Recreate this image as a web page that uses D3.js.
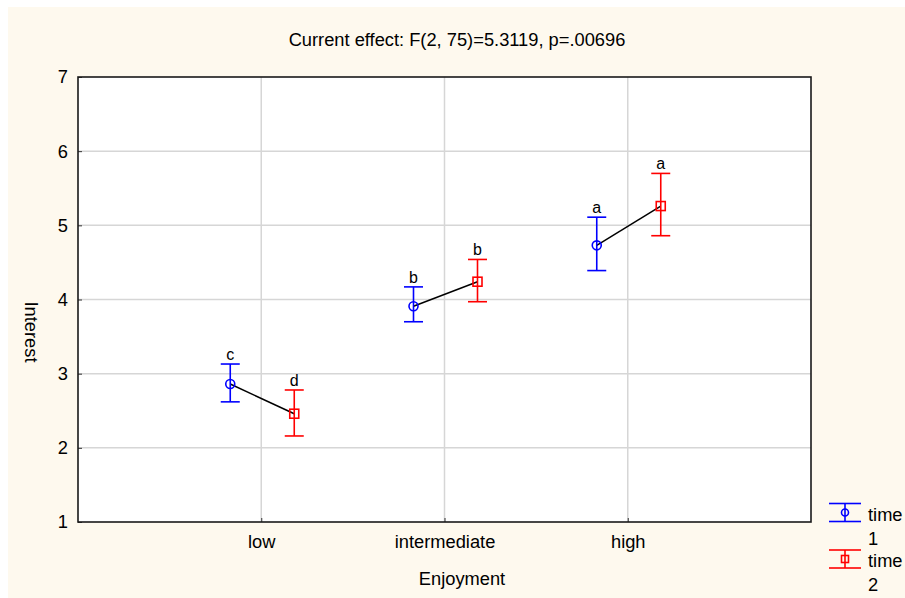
<!DOCTYPE html>
<html>
<head>
<meta charset="utf-8">
<script src="https://cdn.jsdelivr.net/npm/d3@7"></script>
<style>
  html, body { margin: 0; padding: 0; background: #ffffff; }
  text { font-family: "Liberation Sans", Arial, sans-serif; fill: #000; }
</style>
</head>
<body>
<svg id="chart" width="905" height="598"></svg>
<script>
// Interest by level of enjoyment, at two measurement times (means with error bars)
const categories = ["low", "intermediate", "high"];
const seriesNames = ["time 1", "time 2"];
const time1Mean  = [2.86, 3.91, 4.73];
const time1Upper = [3.13, 4.17, 5.11];
const time1Lower = [2.62, 3.70, 4.39];
const time2Mean  = [2.46, 4.24, 5.26];
const time2Upper = [2.78, 4.54, 5.70];
const time2Lower = [2.16, 3.97, 4.86];
const time1Letters = ["c", "b", "a"];
const time2Letters = ["d", "b", "a"];
const yTicks = [1, 2, 3, 4, 5, 6, 7];
const titleText = "Current effect: F(2, 75)=5.3119, p=.00696";

const colors = { "time 1": "#0000ff", "time 2": "#ff0000" };
const fontSize = 18.3;

const svg = d3.select("#chart");

// page background
svg.append("rect").attr("x", 8).attr("y", 7).attr("width", 897).attr("height", 591)
  .attr("fill", "#fef9ee");

const plot = { left: 78, right: 811, top: 77, bottom: 522 };

const x = d3.scalePoint().domain(categories).range([plot.left, plot.right]).padding(1);
const xSeries = d3.scalePoint().domain(seriesNames).range([-31, 33]);
const y = d3.scaleLinear().domain([1, 7]).range([plot.bottom, plot.top]);

// plot area
svg.append("rect")
  .attr("x", plot.left).attr("y", plot.top)
  .attr("width", plot.right - plot.left).attr("height", plot.bottom - plot.top)
  .attr("fill", "#ffffff");

// grid lines
const grid = svg.append("g");
grid.selectAll("line.h").data(yTicks.slice(1, -1)).join("line")
  .attr("x1", plot.left).attr("x2", plot.right)
  .attr("y1", d => y(d)).attr("y2", d => y(d))
  .attr("stroke", "#d6d6d6").attr("stroke-width", 1.5);
grid.selectAll("line.v").data(categories).join("line")
  .attr("x1", d => x(d)).attr("x2", d => x(d))
  .attr("y1", plot.top).attr("y2", plot.bottom)
  .attr("stroke", "#d6d6d6").attr("stroke-width", 1.5);

// axes (ticks point inward)
const yAxis = d3.axisLeft(y).tickValues(yTicks).tickSize(-4).tickPadding(10).tickFormat(d3.format("d"));
const gy = svg.append("g").attr("transform", `translate(${plot.left},0)`).call(yAxis);
const xAxis = d3.axisBottom(x).tickSize(-4).tickPadding(13);
const gx = svg.append("g").attr("transform", `translate(0,${plot.bottom})`).call(xAxis);
[gx, gy].forEach(g => {
  g.select(".domain").remove();
  g.selectAll(".tick line").attr("stroke", "#333").attr("stroke-width", 1);
  g.selectAll(".tick text").attr("font-size", fontSize).attr("font-family", "Liberation Sans, Arial, sans-serif").attr("fill", "#000");
});

// frame
svg.append("rect")
  .attr("x", plot.left).attr("y", plot.top)
  .attr("width", plot.right - plot.left).attr("height", plot.bottom - plot.top)
  .attr("fill", "none").attr("stroke", "#1a1a1a").attr("stroke-width", 1.6);

// rows for each series
const rows = [];
categories.forEach((c, i) => {
  rows.push({ cat: c, s: "time 1", mean: time1Mean[i], hi: time1Upper[i], lo: time1Lower[i], letter: time1Letters[i] });
  rows.push({ cat: c, s: "time 2", mean: time2Mean[i], hi: time2Upper[i], lo: time2Lower[i], letter: time2Letters[i] });
});
const px = d => x(d.cat) + xSeries(d.s);

// connecting lines within each category
const line = d3.line().x(px).y(d => y(d.mean));
categories.forEach(c => {
  svg.append("path").datum(rows.filter(r => r.cat === c))
    .attr("d", line).attr("fill", "none").attr("stroke", "#000").attr("stroke-width", 1.5);
});

const capHalf = 9.5;
const bars = svg.append("g").selectAll("g").data(rows).join("g")
  .attr("stroke", d => colors[d.s]).attr("stroke-width", 1.6).attr("fill", "none");
bars.append("line").attr("x1", px).attr("x2", px).attr("y1", d => y(d.hi)).attr("y2", d => y(d.lo));
bars.append("line").attr("x1", d => px(d) - capHalf).attr("x2", d => px(d) + capHalf)
  .attr("y1", d => y(d.hi)).attr("y2", d => y(d.hi));
bars.append("line").attr("x1", d => px(d) - capHalf).attr("x2", d => px(d) + capHalf)
  .attr("y1", d => y(d.lo)).attr("y2", d => y(d.lo));
bars.filter(d => d.s === "time 1").append("circle")
  .attr("cx", px).attr("cy", d => y(d.mean)).attr("r", 4.5);
bars.filter(d => d.s === "time 2").append("rect")
  .attr("x", d => px(d) - 4.5).attr("y", d => y(d.mean) - 4.5).attr("width", 9).attr("height", 9);

// significance letters
svg.append("g").selectAll("text").data(rows).join("text")
  .attr("x", px).attr("y", d => y(d.hi) - 4)
  .attr("text-anchor", "middle").attr("font-size", 16)
  .text(d => d.letter);

// title and axis titles
svg.append("text").attr("x", 457).attr("y", 46).attr("text-anchor", "middle")
  .attr("font-size", fontSize).text(titleText);
svg.append("text").attr("x", 462).attr("y", 585).attr("text-anchor", "middle")
  .attr("font-size", fontSize).text("Enjoyment");
svg.append("text").attr("transform", "translate(25,332) rotate(90)")
  .attr("text-anchor", "middle").attr("font-size", fontSize).text("Interest");

// legend
const legend = svg.append("g").selectAll("g").data(seriesNames).join("g")
  .attr("transform", (d, i) => `translate(845,${512.5 + i * 46.5})`);
legend.append("line").attr("x1", 0).attr("x2", 0).attr("y1", -9).attr("y2", 9)
  .attr("stroke", d => colors[d]).attr("stroke-width", 1.6);
legend.append("line").attr("x1", -16).attr("x2", 16).attr("y1", -9).attr("y2", -9)
  .attr("stroke", d => colors[d]).attr("stroke-width", 1.6);
legend.append("line").attr("x1", -16).attr("x2", 16).attr("y1", 9).attr("y2", 9)
  .attr("stroke", d => colors[d]).attr("stroke-width", 1.6);
legend.filter(d => d === "time 1").append("circle").attr("r", 3.5)
  .attr("fill", "none").attr("stroke", colors["time 1"]).attr("stroke-width", 1.6);
legend.filter(d => d === "time 2").append("rect").attr("x", -3.5).attr("y", -3.5)
  .attr("width", 7).attr("height", 7)
  .attr("fill", "none").attr("stroke", colors["time 2"]).attr("stroke-width", 1.6);
const lt = legend.append("text").attr("x", 23).attr("y", 8).attr("font-size", fontSize);
lt.append("tspan").attr("x", 23).text(d => d.split(" ")[0]);
lt.append("tspan").attr("x", 23).attr("dy", 24).text(d => d.split(" ")[1]);
</script>
</body>
</html>
